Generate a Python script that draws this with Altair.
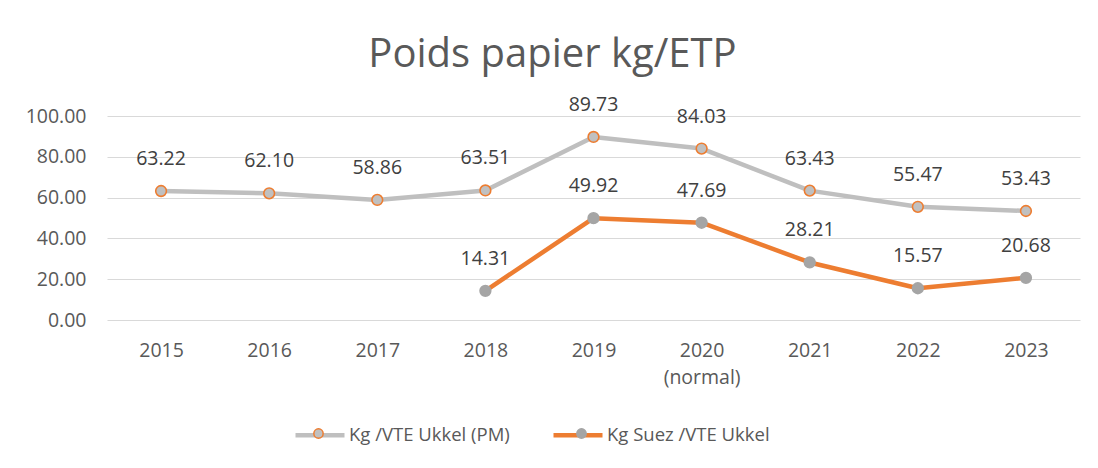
import altair as alt
import pandas as pd

years = ["2015", "2016", "2017", "2018", "2019", "2020 (normal)", "2021", "2022", "2023"]
pm_values = [63.22, 62.10, 58.86, 63.51, 89.73, 84.03, 63.43, 55.47, 53.43]
suez_years = ["2018", "2019", "2020 (normal)", "2021", "2022", "2023"]
suez_values = [14.31, 49.92, 47.69, 28.21, 15.57, 20.68]
series_names = ["Kg /VTE Ukkel (PM)", "Kg Suez /VTE Ukkel"]
y_ticks = [0, 20, 40, 60, 80, 100]

rows = []
for yr, v in zip(years, pm_values):
    rows.append({"year": yr, "value": v, "series": series_names[0]})
for yr, v in zip(suez_years, suez_values):
    rows.append({"year": yr, "value": v, "series": series_names[1]})
df = pd.DataFrame(rows)
df["series_pt"] = df["series"]

FONT = "Open Sans"
TXT = "#595959"
FS = 19.5

x_enc = alt.X(
    "year:N",
    sort=years,
    scale=alt.Scale(type="point", padding=0.5),
    axis=alt.Axis(
        title=None, labelExpr="split(datum.label, ' ')", domain=False, ticks=False,
        labelPadding=21, labelFontSize=FS, labelColor=TXT, labelFont=FONT,
        labelLineHeight=27, labelAngle=0, grid=False,
    ),
)
y_enc = alt.Y(
    "value:Q",
    scale=alt.Scale(domain=[0, 100]),
    axis=alt.Axis(
        title=None, values=y_ticks, format=".2f", domain=False, ticks=False,
        labelPadding=21, labelFontSize=FS, labelColor=TXT, labelFont=FONT,
        gridColor="#D9D9D9", gridWidth=1.2,
    ),
)

legend_common = dict(
    title=None, orient="none", legendX=186, legendY=292, direction="horizontal",
    symbolSize=2401, labelFontSize=18.5, labelFont=FONT,
    labelOffset=2, padding=0, symbolOpacity=1, labelLimit=400,
)

lines = alt.Chart(df).mark_line(strokeWidth=4.5, strokeCap="round", strokeJoin="round").encode(
    x=x_enc,
    y=y_enc,
    color=alt.Color(
        "series:N",
        scale=alt.Scale(domain=series_names, range=["#BFBFBF", "#ED7D31"]),
        legend=alt.Legend(symbolType="stroke", symbolStrokeWidth=4.5, labelColor=TXT,
                          columnPadding=34, **legend_common),
    ),
)

circle_path = "M-1,0M1,0M0.19,0A0.19,0.19,0,1,1,-0.19,0A0.19,0.19,0,1,1,0.19,0Z"
pt_legend = alt.Legend(symbolType=circle_path, symbolStrokeWidth=1.5, labelExpr="''",
                       columnPadding=208, **legend_common)

points = alt.Chart(df).mark_point(filled=True, opacity=1, size=115, strokeWidth=1.6).encode(
    x=x_enc,
    y=y_enc,
    fill=alt.Fill("series_pt:N", scale=alt.Scale(range=["#C0C0C0", "#A5A5A5"]), legend=pt_legend),
    stroke=alt.Stroke("series_pt:N", scale=alt.Scale(range=["#ED7D31", "#A5A5A5"]), legend=pt_legend),
)

labels = alt.Chart(df).mark_text(dy=-26, baseline="alphabetic", fontSize=FS, font=FONT, color="#404040").encode(
    x=x_enc,
    y=y_enc,
    text=alt.Text("value:Q", format=".2f"),
)

chart = alt.layer(lines, points, labels).properties(
    width=973,
    height=204,
    autosize=alt.AutoSizeParams(type="none"),
    padding={"left": 99, "top": 108, "right": 10, "bottom": 140},
    title=alt.TitleParams(
        "Poids papier kg/ETP", fontSize=40, font=FONT, color=TXT, fontWeight="normal",
        anchor="middle", dx=-41, offset=20,
    ),
).configure_view(stroke=None)

chart.save("out.html", embed_options={"renderer": "svg", "actions": False})
